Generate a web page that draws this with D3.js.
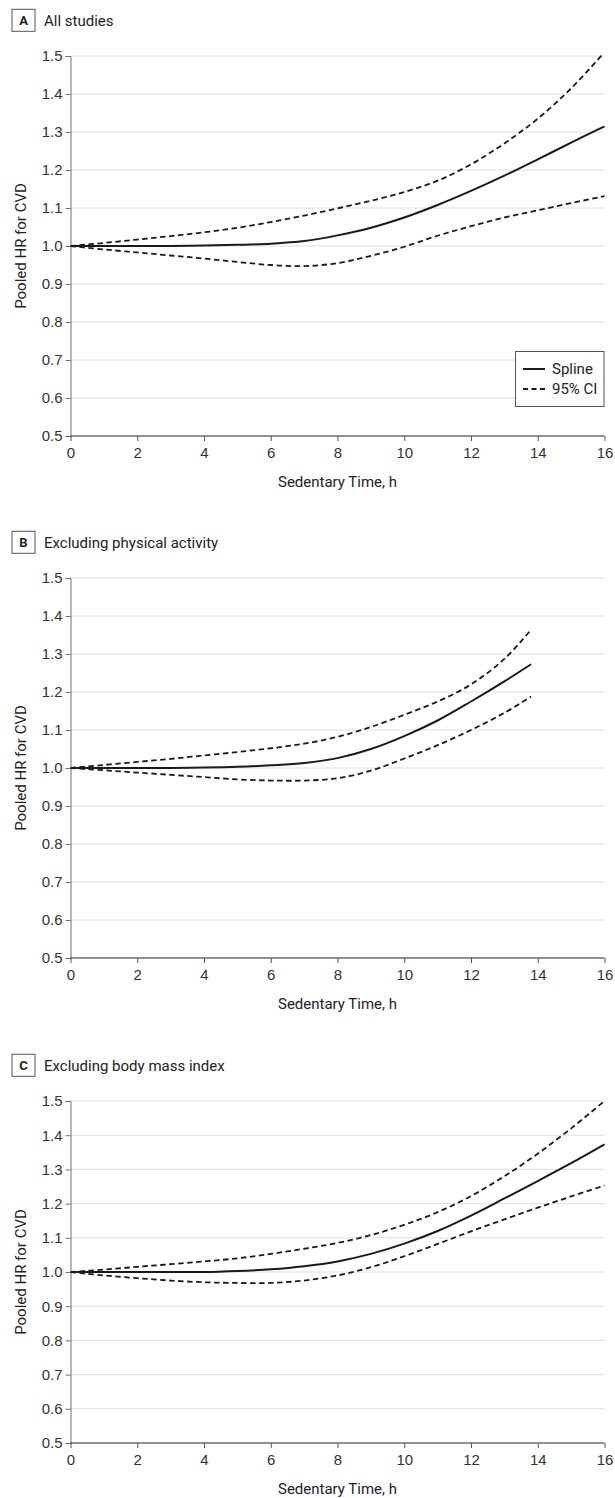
<!DOCTYPE html>
<html>
<head>
<meta charset="utf-8">
<script src="https://cdn.jsdelivr.net/npm/d3@7"></script>
<style>
  body { margin: 0; background: #fff; }
  svg { display: block; font-family: Roboto, "Liberation Sans", sans-serif; }
</style>
</head>
<body>
<svg id="chart"></svg>
<script>
// values, pooled HR by sedentary hours
const panelLetters = ["A", "B", "C"];
const panelTitles = ["All studies", "Excluding physical activity", "Excluding body mass index"];

const hoursA = [0, 1, 2, 3, 4, 5, 6, 7, 8, 9, 10, 11, 12, 13, 14, 15, 16];
const splineA = [1.0, 1.0, 1.0, 1.0, 1.001, 1.003, 1.006, 1.013, 1.028, 1.048, 1.075, 1.108, 1.145, 1.185, 1.228, 1.272, 1.315];
const upperA = [1.0, 1.008, 1.017, 1.026, 1.036, 1.048, 1.063, 1.080, 1.099, 1.119, 1.142, 1.172, 1.215, 1.270, 1.335, 1.415, 1.510];
const lowerA = [1.0, 0.991, 0.983, 0.975, 0.967, 0.958, 0.950, 0.947, 0.955, 0.974, 0.998, 1.027, 1.052, 1.075, 1.094, 1.113, 1.131];

const hoursB = [0, 1, 2, 3, 4, 5, 6, 7, 8, 9, 10, 11, 12, 13, 13.8];
const splineB = [1.0, 1.0, 1.0, 1.0, 1.001, 1.003, 1.007, 1.013, 1.026, 1.050, 1.084, 1.125, 1.175, 1.228, 1.273];
const upperB = [1.0, 1.008, 1.016, 1.024, 1.033, 1.042, 1.052, 1.064, 1.082, 1.108, 1.140, 1.175, 1.220, 1.287, 1.364];
const lowerB = [1.0, 0.994, 0.988, 0.982, 0.976, 0.970, 0.967, 0.967, 0.973, 0.993, 1.025, 1.060, 1.100, 1.145, 1.188];

const hoursC = [0, 1, 2, 3, 4, 5, 6, 7, 8, 9, 10, 11, 12, 13, 14, 15, 16];
const splineC = [1.0, 1.0, 1.0, 1.0, 1.0, 1.003, 1.008, 1.017, 1.031, 1.053, 1.083, 1.120, 1.165, 1.215, 1.266, 1.318, 1.373];
const upperC = [1.0, 1.007, 1.015, 1.023, 1.031, 1.040, 1.053, 1.068, 1.085, 1.108, 1.138, 1.175, 1.222, 1.280, 1.346, 1.420, 1.500];
const lowerC = [1.0, 0.990, 0.982, 0.975, 0.970, 0.968, 0.968, 0.975, 0.990, 1.014, 1.046, 1.082, 1.119, 1.154, 1.188, 1.221, 1.253];

const yTicks = [0.5, 0.6, 0.7, 0.8, 0.9, 1.0, 1.1, 1.2, 1.3, 1.4, 1.5];
const xTicks = [0, 2, 4, 6, 8, 10, 12, 14, 16];
const legendLabels = ["Spline", "95% CI"];

var svgWidth = 615;
var svgHeight = 1498;
var left = 70.5, right = 604.5;

var svg = d3.select("#chart")
            .attr("width", svgWidth)
            .attr("height", svgHeight);

var panels = [
    {top: 56, bottom: 436, hours: hoursA, spline: splineA, upper: upperA, lower: lowerA, legend: true},
    {top: 578, bottom: 958, hours: hoursB, spline: splineB, upper: upperB, lower: lowerB, legend: false},
    {top: 1101, bottom: 1443, hours: hoursC, spline: splineC, upper: upperC, lower: lowerC, legend: false}
];

panels.forEach(function(p, i) { drawPanel(p, i); });

function drawPanel(p, i) {
    var g = svg.append("g");

    var x = d3.scaleLinear().domain([0, 16]).range([left, right]);
    var y = d3.scaleLinear().domain([0.5, 1.5]).range([p.bottom, p.top]);

    // header: letter box + title
    var boxC = p.top - 35.7;
    g.append("rect")
        .attr("x", 12).attr("y", boxC - 11)
        .attr("width", 23).attr("height", 22)
        .attr("fill", "none").attr("stroke", "#555").attr("stroke-width", 1);
    g.append("text")
        .attr("x", 23.5).attr("y", boxC + 5)
        .attr("text-anchor", "middle")
        .attr("font-size", 13).attr("font-weight", "bold").attr("fill", "#222")
        .text(panelLetters[i]);
    g.append("text")
        .attr("x", 44).attr("y", boxC + 5.4)
        .attr("font-size", 15).attr("fill", "#222")
        .text(panelTitles[i]);

    // gridlines
    g.append("g")
        .selectAll("line")
        .data(yTicks.slice(1))
        .enter().append("line")
        .attr("x1", left).attr("x2", right)
        .attr("y1", function(d) { return y(d); })
        .attr("y2", function(d) { return y(d); })
        .attr("stroke", "#dedede").attr("stroke-width", 1);

    // y axis
    var yAxis = g.append("g")
        .attr("transform", "translate(" + left + ",0)")
        .call(d3.axisLeft(y).tickValues(yTicks).tickFormat(d3.format(".1f")).tickSize(5).tickPadding(3));
    yAxis.select(".domain").attr("stroke", "#6e6e6e");
    yAxis.selectAll(".tick line").attr("stroke", "#6e6e6e");
    yAxis.selectAll("text").attr("font-size", 15).attr("fill", "#333").attr("font-family", null);

    // x axis
    var xAxis = g.append("g")
        .attr("transform", "translate(0," + p.bottom + ")")
        .call(d3.axisBottom(x).tickValues(xTicks).tickSize(5).tickPadding(6));
    xAxis.select(".domain").attr("stroke", "#222").attr("d", "M" + left + ",0H" + right);
    xAxis.selectAll(".tick line").attr("stroke", "#555");
    xAxis.selectAll("text").attr("font-size", 15).attr("fill", "#333").attr("font-family", null);

    // axis titles
    g.append("text")
        .attr("x", (left + right) / 2).attr("y", p.bottom + 51)
        .attr("text-anchor", "middle")
        .attr("font-size", 15).attr("fill", "#222")
        .text("Sedentary Time, h");
    g.append("text")
        .attr("transform", "translate(26," + (p.top + p.bottom) / 2 + ") rotate(-90)")
        .attr("text-anchor", "middle")
        .attr("font-size", 15).attr("fill", "#222")
        .text("Pooled HR for CVD");

    // clip to the plot area
    var clipId = "clip" + i;
    g.append("clipPath").attr("id", clipId)
        .append("rect")
        .attr("x", left).attr("y", p.top - 1)
        .attr("width", right - left + 2).attr("height", p.bottom - p.top + 1);

    var line = d3.line()
        .x(function(d) { return x(d.h); })
        .y(function(d) { return y(d.v); })
        .curve(d3.curveCatmullRom.alpha(0.5));

    function series(vals) {
        return p.hours.map(function(h, k) { return {h: h, v: vals[k]}; });
    }

    var curves = g.append("g").attr("clip-path", "url(#" + clipId + ")");
    [p.upper, p.lower].forEach(function(vals) {
        curves.append("path")
            .datum(series(vals))
            .attr("fill", "none")
            .attr("stroke", "#1a1a1a")
            .attr("stroke-width", 1.8)
            .attr("stroke-dasharray", "5.5,3.5")
            .attr("d", line);
    });
    curves.append("path")
        .datum(series(p.spline))
        .attr("fill", "none")
        .attr("stroke", "#1a1a1a")
        .attr("stroke-width", 2)
        .attr("d", line);

    if (p.legend) {
        var lg = g.append("g");
        lg.append("rect")
            .attr("x", 515.5).attr("y", 351.5)
            .attr("width", 88.5).attr("height", 55)
            .attr("fill", "#fff").attr("stroke", "#555").attr("stroke-width", 1);
        legendLabels.forEach(function(lab, k) {
            var ly = 369 + k * 20;
            lg.append("line")
                .attr("x1", 523).attr("x2", 545)
                .attr("y1", ly).attr("y2", ly)
                .attr("stroke", "#1a1a1a")
                .attr("stroke-width", k == 0 ? 2 : 1.8)
                .attr("stroke-dasharray", k == 0 ? null : "5,3.5");
            lg.append("text")
                .attr("x", 552).attr("y", ly + 5)
                .attr("font-size", 15).attr("fill", "#222")
                .text(lab);
        });
    }
}
</script>
</body>
</html>
